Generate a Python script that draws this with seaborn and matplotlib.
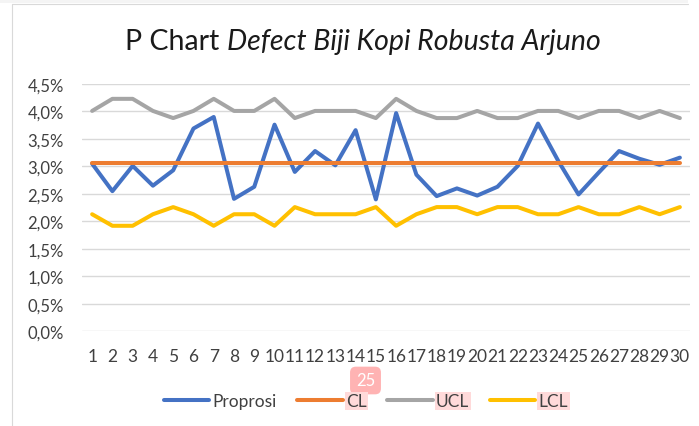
import matplotlib
matplotlib.use("Agg")
import matplotlib.pyplot as plt
import seaborn as sns
import pandas as pd
from matplotlib.lines import Line2D
from matplotlib.patches import Rectangle
from matplotlib.ticker import FuncFormatter

# ---- data (percent) ----
samples = list(range(1, 31))
proprosi = [3.05, 2.55, 3.01, 2.65, 2.93, 3.69, 3.90, 2.41, 2.63, 3.76,
            2.90, 3.28, 3.02, 3.66, 2.40, 3.97, 2.85, 2.46, 2.60, 2.47,
            2.63, 3.01, 3.78, 3.10, 2.49, 2.89, 3.28, 3.14, 3.03, 3.16]
cl = [3.07] * 30
ucl = [4.01, 4.23, 4.23, 4.01, 3.88, 4.01, 4.23, 4.01, 4.01, 4.23,
       3.88, 4.01, 4.01, 4.01, 3.88, 4.23, 4.01, 3.88, 3.88, 4.01,
       3.88, 3.88, 4.01, 4.01, 3.88, 4.01, 4.01, 3.88, 4.01, 3.88]
lcl = [2.13, 1.92, 1.92, 2.13, 2.26, 2.13, 1.92, 2.13, 2.13, 1.92,
       2.26, 2.13, 2.13, 2.13, 2.26, 1.92, 2.13, 2.26, 2.26, 2.13,
       2.26, 2.26, 2.13, 2.13, 2.26, 2.13, 2.13, 2.26, 2.13, 2.26]
series_names = ["Proprosi", "CL", "UCL", "LCL"]
colors = ["#4472C4", "#ED7D31", "#A5A5A5", "#FFC000"]
yticks = [0, 0.5, 1.0, 1.5, 2.0, 2.5, 3.0, 3.5, 4.0, 4.5]
title_plain = "P Chart "
title_italic = "Defect Biji Kopi Robusta Arjuno"

df = pd.DataFrame({
    "Sample": samples * 4,
    "Value": proprosi + cl + ucl + lcl,
    "Series": sum([[n] * 30 for n in series_names], []),
})

sns.set_theme(style="white")
plt.rcParams["font.family"] = ["Lato", "DejaVu Sans"]

W, H = 699, 427
fig = plt.figure(figsize=(W / 100, H / 100), dpi=100)

def px(x0, y0, x1, y1):
    return [x0 / W, 1 - y1 / H, (x1 - x0) / W, (y1 - y0) / H]

ax = fig.add_axes(px(82, 85, 690, 332.3))
sns.lineplot(data=df, x="Sample", y="Value", hue="Series",
             hue_order=series_names, palette=colors, linewidth=2.9,
             ax=ax, legend=True)
ax.set_xlim(0.5, 30.5)
ax.set_ylim(0, 4.5)
ax.set_yticks(yticks)
ax.yaxis.set_major_formatter(FuncFormatter(lambda v, p: f"{v:.1f}%".replace(".", ",")))
ax.set_xticks(samples)
ax.set_xticklabels([str(s) for s in samples])
ax.grid(axis="y", color="#D9D9D9", linewidth=1.0)
ax.set_axisbelow(True)
for s in ax.spines.values():
    s.set_visible(False)
ax.tick_params(axis="both", length=0, colors="#404040")
ax.tick_params(axis="y", pad=13, labelsize=12)
ax.tick_params(axis="x", pad=12, labelsize=12.5)
ax.set_xlabel("")
ax.set_ylabel("")

# title in two parts (plain + italic), centred as a whole
fig.canvas.draw()
r = fig.canvas.get_renderer()
tsize = 20.5
t1 = fig.text(0, 1 - 42 / H, title_plain, ha="left", va="center", fontsize=tsize, color="#1a1a1a")
t2 = fig.text(0, 1 - 42 / H, title_italic, ha="left", va="center", fontsize=tsize,
              style="italic", color="#1a1a1a")
w1 = t1.get_window_extent(r).width
w2 = t2.get_window_extent(r).width
x0 = 363 - (w1 + w2) / 2
t1.set_x(x0 / W)
t2.set_x((x0 + w1) / W)

# legend
handles, labels = ax.get_legend_handles_labels()
ax.get_legend().remove()
leg = fig.legend(handles, labels, loc="center", bbox_to_anchor=(366 / W, 1 - 402 / H),
                 ncol=4, frameon=False, fontsize=12.5, handlelength=2.6,
                 handletextpad=0.2, columnspacing=1.2)
for t in leg.get_texts():
    t.set_color("#404040")
for t in leg.get_texts()[1:]:
    t.set_bbox(dict(facecolor="#FFDADA", edgecolor="none", pad=1.0))

# page artefacts: frame and "25" marker
fig.add_artist(Rectangle((0, 1 - 4 / H), 688 / W, 4 / H, transform=fig.transFigure,
                         facecolor="#F4F4F4", edgecolor="none"))
fig.add_artist(Line2D([12 / W, 688 / W], [1 - 4.5 / H, 1 - 4.5 / H],
                      transform=fig.transFigure, color="#D9D9D9", linewidth=0.8))
fig.add_artist(Line2D([12 / W, 12 / W], [0, 1 - 4.5 / H],
                      transform=fig.transFigure, color="#D9D9D9", linewidth=0.8))
fig.text(365.5 / W, 1 - 381.5 / H, "25", ha="center", va="center", fontsize=12,
         color="white",
         bbox=dict(boxstyle="round,pad=0.35,rounding_size=0.35",
                   facecolor="#FFB3B3", edgecolor="none"))

fig.savefig("out.png", dpi=100)
